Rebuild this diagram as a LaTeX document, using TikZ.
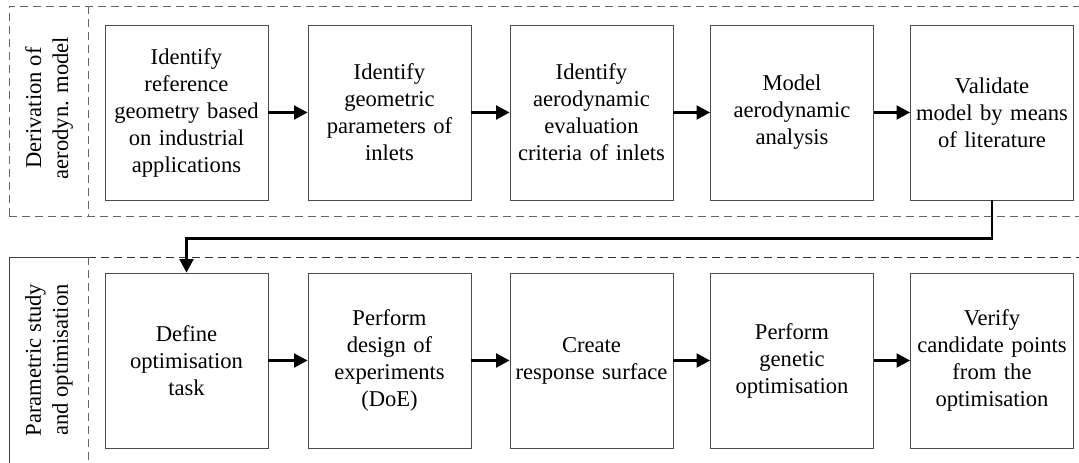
\documentclass[tikz,border=0pt]{standalone}
\usepackage{fontspec}
\setmainfont{Liberation Serif}
\usetikzlibrary{arrows.meta}
\begin{document}
\begin{tikzpicture}[x=1pt,y=-1pt,
  stepbox/.style={draw=black!70,line width=0.9pt,minimum width=163pt,minimum height=175pt,
    text width=160pt,align=center,inner sep=0pt,font=\fontsize{22.6}{27}\selectfont},
  lbl/.style={rotate=90,align=center,font=\fontsize{22.6}{27}\selectfont},
  dashln/.style={draw=black!60,line width=0.9pt,dash pattern=on 8pt off 5pt},
  arr/.style={draw=black,line width=2.1pt,-{Triangle[length=13.5pt,width=14pt]}}]
\useasboundingbox (0,0) rectangle (1079,463);
% section frames
\draw[dashln] (9,216) -- (9,6) -- (1085,6);
\draw[dashln] (9,216) -- (1085,216);
\draw[dashln] (88,6) -- (88,216);
\draw[draw=black!75,line width=0.9pt] (9,470) -- (9,257) -- (88,257);
\draw[draw=black!80,line width=0.9pt,dash pattern=on 8pt off 5pt] (88,257) -- (1085,257);
\draw[dashln] (88,257) -- (88,470);
% labels
\node[lbl] (l1) at (49,108) {Derivation of\\aerodyn. model};
\node[lbl] (l2) at (49,360) {Parametric study\\and optimisation};
% top row
\node[stepbox] (a1) at (186.5,112.5) {Identify\\reference\\geometry based\\on industrial\\applications};
\node[stepbox] (a2) at (389.5,112.5) {Identify\\geometric\\parameters of\\inlets};
\node[stepbox] (a3) at (591.5,112.5) {Identify\\aerodynamic\\evaluation\\criteria of inlets};
\node[stepbox] (a4) at (792,112.5) {Model\\aerodynamic\\analysis};
\node[stepbox] (a5) at (992,112.5) {Validate\\model by means\\of literature};
% bottom row
\node[stepbox] (b1) at (186.5,360.5) {Define\\optimisation\\task};
\node[stepbox] (b2) at (389.5,360.5) {Perform\\design of\\experiments\\(DoE)};
\node[stepbox] (b3) at (591.5,360.5) {Create\\response surface};
\node[stepbox] (b4) at (792,360.5) {Perform\\genetic\\optimisation};
\node[stepbox] (b5) at (992,360.5) {Verify\\candidate points\\from the\\optimisation};
% arrows
\draw[arr] (a1) -- (a2);
\draw[arr] (a2) -- (a3);
\draw[arr] (a3) -- (a4);
\draw[arr] (a4) -- (a5);
\draw[arr] (b1) -- (b2);
\draw[arr] (b2) -- (b3);
\draw[arr] (b3) -- (b4);
\draw[arr] (b4) -- (b5);
\draw[arr] (a5.south) -- ++(0,38) -| (b1.north);
\end{tikzpicture}
\end{document}
